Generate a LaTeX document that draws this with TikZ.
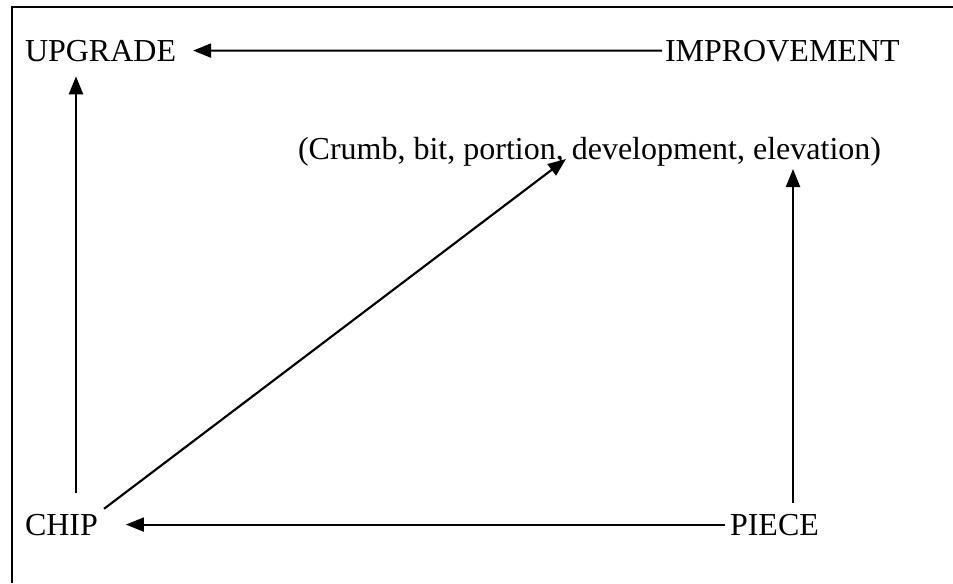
\documentclass[tikz,border=0pt]{standalone}
\usepackage{fontspec}
\setmainfont{Liberation Serif}
\usetikzlibrary{arrows.meta}
\begin{document}
\begin{tikzpicture}[x=0.75pt,y=-0.75pt,
  word/.style={inner sep=0pt,outer sep=0pt,anchor=base west,font=\fontsize{24}{28}\selectfont},
  arr/.style={line width=1.6pt,-{Triangle[length=13.5pt,width=10.5pt]}},
  frame/.style={line width=1.5pt}]
\useasboundingbox (0,0) rectangle (953,583);
% open frame: top and left edges
\draw[frame] (953,7) -- (12,7) -- (12,583);
% terms
\node[word] (upgrade) at (25,61) {UPGRADE};
\node[word] (improvement) at (665,61) {IMPROVEMENT};
\node[word] (crumb) at (298,159) {(Crumb, bit, portion, development, elevation)};
\node[word] (chip) at (25,535) {CHIP};
\node[word] (piece) at (730,535) {PIECE};
% connections
\draw[arr,shorten <=2.25pt,shorten >=12.75pt] (improvement.west) -- (upgrade.east);
\draw[arr] ([shift={(51,-21)}]chip.north west) -- ([shift={(51,15)}]upgrade.south west);
\draw[arr] ([shift={(79,-5)}]chip.north west) -- ([shift={(268,0)}]crumb.base west);
\draw[arr,shorten <=3.75pt,shorten >=21pt] (piece.west) -- (chip.east);
\draw[arr] ([shift={(63,-11)}]piece.north west) -- ([shift={(495,10)}]crumb.base west);
\end{tikzpicture}
\end{document}
